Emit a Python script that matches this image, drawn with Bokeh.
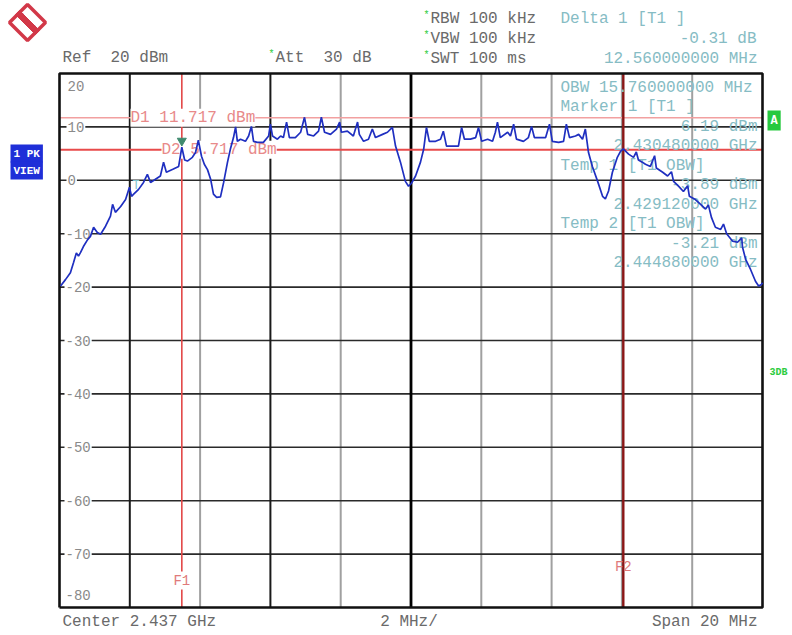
from bokeh.plotting import figure
from bokeh.models import Range1d, Label, PolyAnnotation
from bokeh.embed import file_html
from bokeh.resources import INLINE

# ---------------- data ----------------
center_ghz = 2.437
span_ghz = 0.020
ref_dbm = 20
range_db = 100

freq_ghz = [
    2.42703, 2.42717, 2.42731, 2.42740, 2.42748, 2.42754, 2.42760, 2.42768, 2.42780, 2.42788,
    2.42797, 2.42808, 2.42817, 2.42831, 2.42845, 2.42851, 2.42859, 2.42874, 2.42888, 2.42899,
    2.42905, 2.42911, 2.42925, 2.42939, 2.42950, 2.42959, 2.42973, 2.42987, 2.42996, 2.43004,
    2.43024, 2.43039, 2.43048, 2.43056, 2.43064, 2.43078, 2.43087, 2.43095, 2.43104, 2.43112,
    2.43121, 2.43130, 2.43138, 2.43147, 2.43158, 2.43167, 2.43178, 2.43186, 2.43195, 2.43201,
    2.43206, 2.43215, 2.43229, 2.43238, 2.43246, 2.43252, 2.43263, 2.43280, 2.43295, 2.43300,
    2.43306, 2.43320, 2.43329, 2.43337, 2.43346, 2.43354, 2.43371, 2.43386, 2.43397, 2.43406,
    2.43423, 2.43437, 2.43445, 2.43454, 2.43471, 2.43488, 2.43497, 2.43502, 2.43519, 2.43536,
    2.43548, 2.43553, 2.43565, 2.43579, 2.43590, 2.43599, 2.43619, 2.43633, 2.43647, 2.43656,
    2.43670, 2.43684, 2.43693, 2.43701, 2.43713, 2.43727, 2.43736, 2.43744, 2.43752, 2.43770,
    2.43784, 2.43792, 2.43801, 2.43835, 2.43844, 2.43852, 2.43869, 2.43884, 2.43892, 2.43901,
    2.43918, 2.43932, 2.43940, 2.43946, 2.43954, 2.43975, 2.43983, 2.43992, 2.44000, 2.44020,
    2.44034, 2.44043, 2.44051, 2.44083, 2.44094, 2.44102, 2.44120, 2.44134, 2.44142, 2.44151,
    2.44168, 2.44177, 2.44188, 2.44196, 2.44205, 2.44216, 2.44231, 2.44245, 2.44253, 2.44262,
    2.44273, 2.44287, 2.44296, 2.44304, 2.44319, 2.44333, 2.44341, 2.44347, 2.44358, 2.44367,
    2.44381, 2.44393, 2.44398, 2.44416, 2.44430, 2.44441, 2.44447, 2.44461, 2.44475, 2.44487,
    2.44492, 2.44509, 2.44524, 2.44538, 2.44546, 2.44555, 2.44566, 2.44581, 2.44589, 2.44598,
    2.44615, 2.44629, 2.44641, 2.44643, 2.44652, 2.44666, 2.44680, 2.44689, 2.44697, 2.44700,
]
level_dbm = [
    -19.8, -18.6, -17.3, -15.4, -13.6, -14.2, -13.5, -12.4, -11.1, -10.5,
    -8.8, -9.8, -10.1, -8.6, -6.7, -4.5, -6.0, -4.9, -3.6, -1.3,
    -3.0, -2.6, -1.7, -0.4, 1.1, -0.4, 0.2, 0.8, 3.4, 1.5,
    2.1, 2.6, 6.19, 3.8, 3.6, 4.3, 5.2, 7.5, 4.5, 3.0,
    2.0, 0.2, -2.6, -3.2, -3.1, -0.4, 3.4, 5.8, 8.0, 10.0,
    7.3, 7.7, 7.3, 8.3, 10.1, 7.3, 7.1, 7.1, 8.3, 10.5,
    8.3, 7.7, 8.3, 8.0, 10.9, 8.0, 8.0, 9.0, 11.8, 8.6,
    8.3, 9.2, 11.8, 9.0, 8.6, 9.6, 10.9, 9.0, 9.2, 8.3,
    10.9, 8.6, 7.3, 7.7, 9.6, 8.0, 8.6, 9.0, 9.9, 6.4,
    3.4, -0.2, -1.1, -0.6, 0.8, 3.4, 5.8, 9.9, 7.3, 7.3,
    7.7, 9.2, 6.4, 6.4, 9.9, 7.7, 7.7, 8.0, 9.9, 7.3,
    7.7, 7.3, 9.0, 10.9, 8.0, 9.0, 8.3, 10.5, 7.7, 7.3,
    8.0, 10.1, 8.0, 8.0, 10.5, 7.3, 7.1, 7.3, 10.5, 8.0,
    8.3, 8.6, 7.7, 9.6, 5.2, 2.6, -0.2, -3.0, -3.5, -2.0,
    1.5, 4.3, 5.4, 5.88, 4.9, 4.3, 5.3, 3.8, 3.4, 3.0,
    2.6, 4.6, 2.3, 1.5, 0.8, 1.6, -0.2, -1.1, -2.1, -1.0,
    -3.0, -3.6, -4.5, -5.4, -4.6, -7.0, -8.8, -9.2, -8.2, -10.0,
    -11.4, -11.6, -10.8, -12.5, -14.8, -16.7, -18.9, -19.8, -19.5, -19.2,
]

y_ticks = [20, 10, 0, -10, -20, -30, -40, -50, -60, -70, -80]
d1_dbm = 11.717
d2_dbm = 5.717
f1_ghz = 2.43048
f2_ghz = 2.44304
m1_ghz = 2.43048
m1_dbm = 6.19
t1_ghz = 2.42912
t1_dbm = -2.6

NB = "\u00a0"
header_left = [f"Ref{NB}{NB}20{NB}dBm"]
header_mid = [f"Att{NB}{NB}30{NB}dB"]
header_settings = ["RBW 100 kHz", "VBW 100 kHz", "SWT 100 ms"]
delta_lines = ["Delta 1 [T1 ]", "-0.31 dB", "12.560000000 MHz"]
panel_lines = [
    ("OBW 15.760000000 MHz", "left"),
    ("Marker 1 [T1 ]", "left"),
    ("6.19 dBm", "right"),
    ("2.430480000 GHz", "right"),
    ("Temp 1 [T1 OBW]", "left"),
    ("-3.89 dBm", "right"),
    ("2.429120000 GHz", "right"),
    ("Temp 2 [T1 OBW]", "left"),
    ("-3.21 dBm", "right"),
    ("2.444880000 GHz", "right"),
]

# ---------------- layout ----------------
W, H = 790, 632
PX_L, PX_R, PX_T, PX_B = 59, 762, 73, 607   # screen box of the measurement grid
MONO = "Liberation Mono"

x0 = center_ghz - span_ghz / 2
x1 = center_ghz + span_ghz / 2
y1 = ref_dbm
y0 = ref_dbm - range_db

gx = span_ghz / (PX_R - PX_L)
gy = range_db / (PX_B - PX_T)

p = figure(width=W, height=H, output_backend="svg", toolbar_location=None,
           x_range=Range1d(x0 - PX_L * gx, x0 + (W - PX_L) * gx),
           y_range=Range1d(y1 - (H - PX_T) * gy, y1 + PX_T * gy),
           x_axis_location=None, y_axis_location=None,
           min_border_left=0, min_border_right=0, min_border_top=0, min_border_bottom=0)
p.outline_line_color = None
p.xgrid.visible = False
p.ygrid.visible = False
p.background_fill_color = "white"
p.border_fill_color = "white"


def px2x(px):
    return x0 + (px - PX_L) * gx


def px2y(py):
    return y1 - (py - PX_T) * gy


div = span_ghz / 10
vdark = [x0 + k * div for k in (1, 3)]
vgray = [x0 + k * div for k in (2, 4, 6, 7, 8, 9)]
hlines = [v for v in y_ticks if y0 < v < y1]

# grid
p.segment(x0=vgray, y0=[y0] * len(vgray), x1=vgray, y1=[y1] * len(vgray),
          line_color="#a0a0a0", line_width=2, level="underlay")
p.segment(x0=[x0] * len(hlines), y0=hlines, x1=[x1] * len(hlines), y1=hlines,
          line_color="#2a2a2a", line_width=1.6, level="underlay")
p.segment(x0=vdark, y0=[y0] * len(vdark), x1=vdark, y1=[y1] * len(vdark),
          line_color="#1a1a1a", line_width=2, level="underlay")
p.segment(x0=[center_ghz], y0=[y0], x1=[center_ghz], y1=[y1],
          line_color="#000000", line_width=2.8, level="underlay")

# display lines D1 / D2
p.segment(x0=[x0], y0=[d1_dbm], x1=[x1], y1=[d1_dbm], line_color="#f2a0a0",
          line_width=1.5, level="underlay")
p.segment(x0=[x0], y0=[d2_dbm], x1=[x1], y1=[d2_dbm], line_color="#e84a4a",
          line_width=2, level="underlay")

# frequency lines F1 / F2
p.segment(x0=[f1_ghz], y0=[y0], x1=[f1_ghz], y1=[y1], line_color="#e34848",
          line_width=1.6, level="underlay")
p.segment(x0=[f2_ghz], y0=[y0], x1=[f2_ghz], y1=[y1], line_color="#8a1616",
          line_width=2.4, level="underlay")

# frame border
p.line([x0, x1, x1, x0, x0], [y0, y0, y1, y1, y0], line_color="#111111", line_width=2.6)


def lab(x, y, text, xo=0, yo=0, color="#6a6a6a", size=16, align="left",
        bg=None, style="normal", level="annotation", pad=0):
    kw = dict(x=x, y=y, x_offset=xo, y_offset=yo, text=text, text_font=MONO,
              text_font_size=f"{size}px", text_color=color, text_align=align,
              text_baseline="middle", text_font_style=style, level=level)
    if bg is not None:
        kw["background_fill_color"] = bg
        kw["padding"] = pad
    p.add_layout(Label(**kw))


# y tick labels inside the frame
for v in y_ticks:
    yo = 0
    if v == y1:
        yo = -12
    elif v == y0:
        yo = 13
    lab(x0, v, str(v), xo=7 if v >= 0 else 5, yo=yo, color="#8a8a8a", size=14,
        bg="white", level="underlay", pad=1)

lab(x0, d1_dbm, f"D1 {d1_dbm:.3f} dBm", xo=71, color="#e88a8a", bg="white",
    level="underlay")
lab(x0, d2_dbm, f"D2 {d2_dbm:.3f} dBm", xo=102, color="#e88a8a", bg="white",
    level="underlay")

# panel text inside frame (right side)
for i, (txt, al) in enumerate(panel_lines):
    yo = -14 - i * 19.5
    if al == "left":
        lab(x1, y1, txt, xo=-202, yo=yo, color="#86bcc4", level="underlay")
    else:
        lab(x1, y1, txt, xo=-5, yo=yo, color="#86bcc4", align="right", level="underlay")

lab(f1_ghz, y0, "F1", yo=27, color="#e07a7a", size=14, align="center", bg="white",
    level="underlay", pad=1)
lab(f2_ghz, y0, "F2", yo=41, color="#e07a7a", size=14, align="center", level="underlay")

# trace
p.line(freq_ghz, level_dbm, line_color="#1f2fc0", line_width=1.7)

# markers
p.scatter([m1_ghz], [m1_dbm + 1.2], marker="inverted_triangle", size=9,
          fill_color="#3f8a6e", line_color="#3f8a6e")
lab(t1_ghz, t1_dbm, "T", xo=2, yo=8, color="#7ec4cc", size=12, align="center")

# header texts (above frame)
lab(x0, y1, header_left[0], xo=3, yo=16)
lab(x0, y1, "*", xo=209, yo=19, color="#2ecc40", size=10)
lab(x0, y1, header_mid[0], xo=216, yo=16)
for i, txt in enumerate(header_settings):
    yo = 55 - i * 20
    lab(x0, y1, "*", xo=364, yo=yo + 3, color="#2ecc40", size=10)
    lab(x0, y1, txt, xo=371, yo=yo)
lab(x0, y1, delta_lines[0], xo=501, yo=55, color="#86bcc4")
lab(x1, y1, delta_lines[1], xo=-6, yo=35, color="#86bcc4", align="right")
lab(x1, y1, delta_lines[2], xo=-5, yo=15, color="#86bcc4", align="right")

# footer texts
lab(x0, y0, "Center 2.437 GHz", xo=3, yo=-14)
lab(center_ghz, y0, "2 MHz/", xo=-2, yo=-14, align="center")
lab(x1, y0, "Span 20 MHz", xo=-5, yo=-14, align="right")

# side boxes
lab(x0, y1, "1 PK", xo=-49, yo=-80, color="white", size=11, bg="#1f2fd8",
    style="bold", pad=3)
lab(x0, y1, "VIEW", xo=-49, yo=-97, color="white", size=11, bg="#1f2fd8",
    style="bold", pad=3)
lab(x1, y1, "A", xo=5, yo=-47, color="white", size=12, bg="#27c93f",
    style="bold", pad=3)
lab(x1, y1, "3DB", xo=7, yo=-299, color="#2ecc40", size=10, style="bold")

# R&S logo (diamond)
cx, cy, hr = 27, 22, 18
p.add_layout(PolyAnnotation(
    xs=[px2x(cx), px2x(cx + hr), px2x(cx), px2x(cx - hr)],
    ys=[px2y(cy - hr), px2y(cy), px2y(cy + hr), px2y(cy)],
    fill_color="white", fill_alpha=1.0, line_color="#d23848", line_alpha=1.0,
    line_width=3.5))
p.add_layout(PolyAnnotation(
    xs=[px2x(cx - 12), px2x(cx - 8), px2x(cx + 12), px2x(cx + 8)],
    ys=[px2y(cy - 8), px2y(cy - 12), px2y(cy + 8), px2y(cy + 12)],
    fill_color="#d23848", fill_alpha=1.0, line_color="#d23848", line_alpha=1.0,
    line_width=1))
lab(px2x(cx - 6), px2y(cy - 6), "R", color="#d23848", size=9, style="bold", align="center")
lab(px2x(cx + 6), px2y(cy + 6), "S", color="#d23848", size=9, style="bold", align="center")

open("out.html", "w").write(file_html(p, INLINE))
